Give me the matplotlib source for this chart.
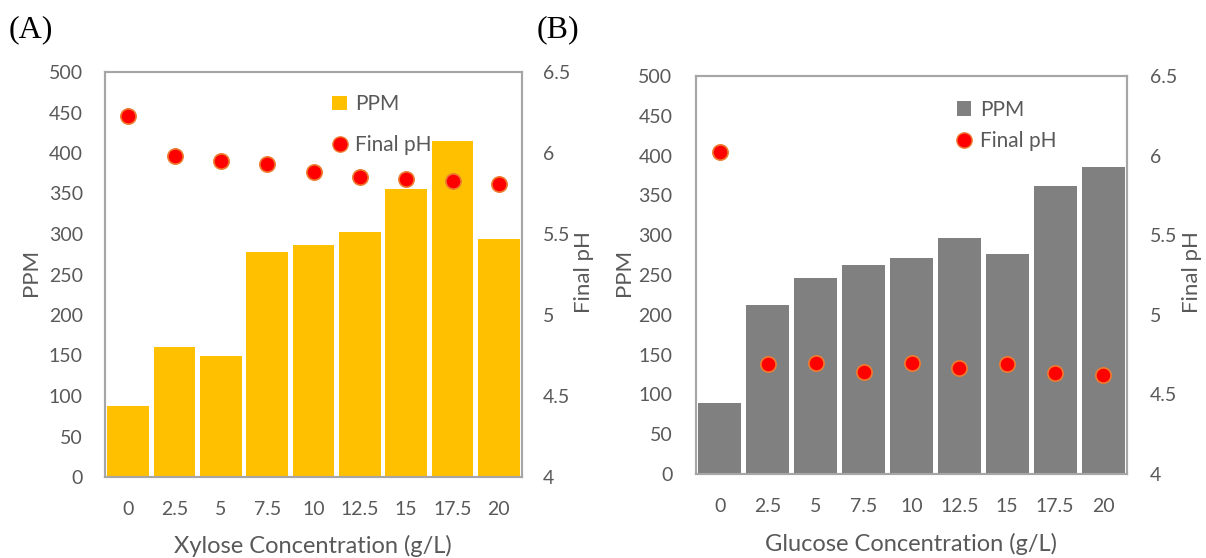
import matplotlib
matplotlib.use("Agg")
import matplotlib.pyplot as plt
from matplotlib.patches import Patch
from matplotlib.lines import Line2D

plt.rcParams['font.family'] = ['Lato', 'DejaVu Sans']

conc = ['0', '2.5', '5', '7.5', '10', '12.5', '15', '17.5', '20']

# panel A - xylose
ppm_xyl = [88, 160, 150, 278, 286, 302, 355, 415, 294]
ph_xyl = [6.23, 5.98, 5.95, 5.93, 5.88, 5.85, 5.84, 5.83, 5.81]

# panel B - glucose
ppm_glu = [89, 212, 246, 263, 271, 296, 277, 362, 386]
ph_glu = [6.02, 4.69, 4.70, 4.64, 4.70, 4.665, 4.69, 4.635, 4.62]

W, H = 1206, 558
fig = plt.figure(figsize=(W / 100, H / 100), dpi=100)

txt = '#595959'
spine_col = '#A6A6A6'


def px(x0, y_top, x1, y_bot):
    return [x0 / W, 1 - y_bot / H, (x1 - x0) / W, (y_bot - y_top) / H]


def panel(rect, ppm, ph, color, leg_anchor, leg_space, lpad, rpad):
    ax = fig.add_axes(rect)
    ax2 = ax.twinx()
    x = range(len(conc))
    ax.bar(x, ppm, width=0.9, color=color, edgecolor='none')
    ax2.plot(x, ph, 'o', color='#FF0000', markeredgecolor='#ED7D31',
             markeredgewidth=1.2, markersize=11, linestyle='none')
    ax.set_xlim(-0.5, len(conc) - 0.5)
    ax.set_ylim(0, 500)
    ax.set_yticks(range(0, 501, 50))
    ax2.set_ylim(4, 6.5)
    ax2.set_yticks([4, 4.5, 5, 5.5, 6, 6.5])
    ax2.set_yticklabels(['4', '4.5', '5', '5.5', '6', '6.5'])
    ax.set_xticks(list(x))
    ax.set_xticklabels(conc)
    ax.tick_params(axis='x', length=0, pad=17, labelsize=14, labelcolor=txt)
    ax.tick_params(axis='y', length=0, pad=lpad, labelsize=14, labelcolor=txt)
    ax2.tick_params(axis='y', length=0, pad=rpad, labelsize=14, labelcolor=txt)
    for a in (ax, ax2):
        for s in a.spines.values():
            s.set_color(spine_col)
            s.set_linewidth(1.5)
    handles = [Patch(facecolor=color, edgecolor='none'),
               Line2D([], [], marker='o', linestyle='none', color='#FF0000',
                      markeredgecolor='#ED7D31', markersize=11)]
    leg = ax2.legend(handles, ['PPM', 'Final pH'], loc='upper left',
                     bbox_to_anchor=leg_anchor, frameon=False, fontsize=15,
                     handlelength=0.7, handleheight=0.7, handletextpad=0.4,
                     labelspacing=leg_space, borderpad=0, borderaxespad=0)
    for t in leg.get_texts():
        t.set_color(txt)
    return ax, ax2


panel(px(105, 72, 522, 477), ppm_xyl, ph_xyl, '#FFC000', (0.545, 0.945), 1.0, 16, 15)
panel(px(696, 76, 1127, 474), ppm_glu, ph_glu, '#808080', (0.605, 0.94), 0.55, 17, 16.5)

# axis titles
fig.text(313 / W, 1 - 546 / H, 'Xylose Concentration (g/L)', ha='center', va='center',
         fontsize=17, color=txt)
fig.text(911 / W, 1 - 544 / H, 'Glucose Concentration (g/L)', ha='center', va='center',
         fontsize=17, color=txt)
fig.text(31 / W, 1 - 272 / H, 'PPM', rotation=90, ha='center', va='center',
         fontsize=16, color=txt)
fig.text(584 / W, 1 - 272 / H, 'Final pH', rotation=90, ha='center', va='center',
         fontsize=16, color=txt)
fig.text(624 / W, 1 - 272 / H, 'PPM', rotation=90, ha='center', va='center',
         fontsize=16, color=txt)
fig.text(1192 / W, 1 - 272 / H, 'Final pH', rotation=90, ha='center', va='center',
         fontsize=16, color=txt)

# panel letters
fig.text(9 / W, 1 - 30 / H, '(A)', ha='left', va='center', fontsize=23,
         family='Liberation Serif', color='black')
fig.text(537 / W, 1 - 30 / H, '(B)', ha='left', va='center', fontsize=23,
         family='Liberation Serif', color='black')

fig.savefig('out.png', dpi=100)
